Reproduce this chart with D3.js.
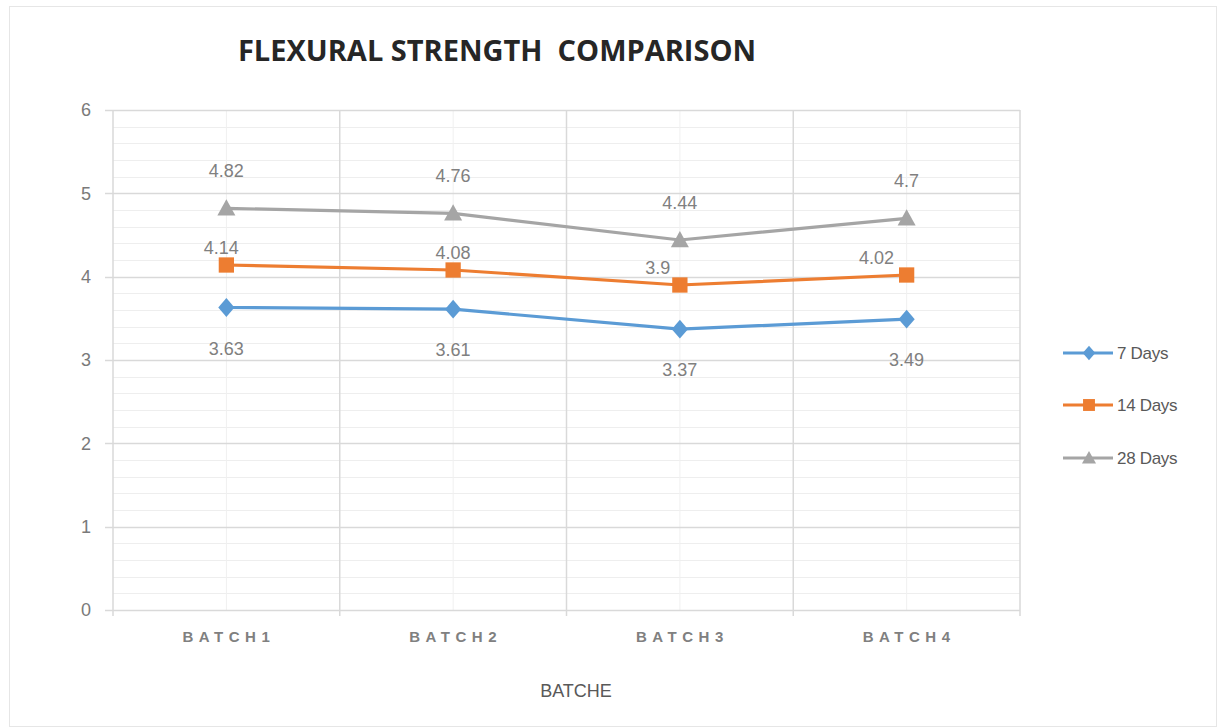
<!DOCTYPE html>
<html><head><meta charset="utf-8">
<script src="https://cdn.jsdelivr.net/npm/d3@7"></script>
<style>body{margin:0;background:#fff}svg{display:block}</style>
</head><body>
<svg id="c" width="1218" height="728"></svg>
<script>
const categories = ["BATCH1","BATCH2","BATCH3","BATCH4"];
const days7 = [3.63, 3.61, 3.37, 3.49];
const days14 = [4.14, 4.08, 3.9, 4.02];
const days28 = [4.82, 4.76, 4.44, 4.7];
const seriesNames = ["7 Days","14 Days","28 Days"];
const yTicks = [0,1,2,3,4,5,6];

const colors = ["#5b9bd5","#ed7d31","#a5a5a5"];
const labelDy = [40, -18, -38];
const label14Dx = [-5, 0, -22, -30];

const svg = d3.select("#c");
const m = {left:113, right:1020, top:110, bottom:610};

svg.append("rect").attr("x",9.5).attr("y",6.5).attr("width",1207).attr("height",720)
  .attr("fill","#fff").attr("stroke","#e6e6e6");

const x = d3.scaleBand().domain(categories).range([m.left, m.right]).padding(0);
const y = d3.scaleLinear().domain([0,6]).range([m.bottom, m.top]);

function marker(sel, s, r) {
  if (s === 0) {
    sel.attr("d", `M0,${-r*1.05}L${r*0.9},0L0,${r*1.05}L${-r*0.9},0Z`);
  } else if (s === 1) {
    sel.attr("d", `M${-r*0.85},${-r*0.85}H${r*0.85}V${r*0.85}H${-r*0.85}Z`);
  } else {
    sel.attr("d", `M0,${-r}L${r},${r*0.8}L${-r},${r*0.8}Z`);
  }
}

const minor = d3.range(0, 6.0001, 0.2);
svg.append("g").selectAll("line").data(minor).join("line")
  .attr("x1", m.left).attr("x2", m.right)
  .attr("y1", d=>Math.round(y(d))+0.5).attr("y2", d=>Math.round(y(d))+0.5)
  .attr("stroke","#eeeeee").attr("stroke-width",1);
svg.append("g").selectAll("line").data(categories).join("line")
  .attr("x1", d=>x(d)+x.bandwidth()/2).attr("x2", d=>x(d)+x.bandwidth()/2)
  .attr("y1", m.top).attr("y2", m.bottom)
  .attr("stroke","#f0f0f0").attr("stroke-width",1);
svg.append("g").selectAll("line").data(yTicks).join("line")
  .attr("x1", m.left-8).attr("x2", m.right)
  .attr("y1", d=>Math.round(y(d))+0.5).attr("y2", d=>Math.round(y(d))+0.5)
  .attr("stroke","#d9d9d9").attr("stroke-width",1.5);
const edges = categories.map(c=>x(c)).concat([m.right]);
svg.append("g").selectAll("line").data(edges).join("line")
  .attr("x1", d=>d).attr("x2", d=>d)
  .attr("y1", m.top).attr("y2", m.bottom+6)
  .attr("stroke","#d9d9d9").attr("stroke-width",1.5);

const yAxis = d3.axisLeft(y).tickValues(yTicks).tickSize(0).tickPadding(22).tickFormat(d3.format("d"));
const gy = svg.append("g").attr("transform",`translate(${m.left},0)`).call(yAxis);
gy.select(".domain").remove();
gy.selectAll("text").attr("font-family","Liberation Sans, Arial, sans-serif").attr("font-size",18).attr("fill","#7a7a7a");

const xAxis = d3.axisBottom(x).tickSize(0).tickPadding(21);
const gx = svg.append("g").attr("transform",`translate(0,${m.bottom})`).call(xAxis);
gx.select(".domain").remove();
gx.selectAll("text").attr("font-family","Liberation Sans, Arial, sans-serif").attr("font-size",15)
  .attr("fill","#808080").attr("letter-spacing","5.5px").attr("font-weight","bold")
  .attr("dx","2.5px");

svg.append("text").attr("x",497).attr("y",61).attr("text-anchor","middle")
  .attr("font-family","Open Sans, sans-serif").attr("font-weight","bold").attr("font-size",29)
  .attr("fill","#262626").attr("xml:space","preserve").text("FLEXURAL STRENGTH  COMPARISON");

svg.append("text").attr("x",576).attr("y",697).attr("text-anchor","middle")
  .attr("font-family","Liberation Sans, Arial, sans-serif").attr("font-size",18)
  .attr("fill","#595959").text("BATCHE");

const series = [days7, days14, days28];
const line = d3.line().x((d,i)=>x(categories[i])+x.bandwidth()/2).y(d=>y(d));

series.forEach((vals, s) => {
  const g = svg.append("g");
  g.append("path").datum(vals).attr("d", line).attr("fill","none")
    .attr("stroke", colors[s]).attr("stroke-width",3.2);
  g.selectAll("path.m").data(vals).join("path").attr("class","m")
    .attr("transform",(d,i)=>`translate(${x(categories[i])+x.bandwidth()/2},${y(d)})`)
    .call(marker, s, 9)
    .attr("fill", colors[s]);
  g.selectAll("text").data(vals).join("text")
    .attr("x",(d,i)=>x(categories[i])+x.bandwidth()/2 + (s===1?label14Dx[i]:0))
    .attr("y",d=>y(d)+labelDy[s]+7)
    .attr("text-anchor","middle")
    .attr("font-family","Liberation Sans, Arial, sans-serif").attr("font-size",18)
    .attr("fill","#808080").text(d=>d);
});

const lg = svg.append("g");
const legendY = [353, 405, 458];
seriesNames.forEach((n, s) => {
  const ly = legendY[s];
  lg.append("line").attr("x1",1063).attr("x2",1113).attr("y1",ly).attr("y2",ly)
    .attr("stroke",colors[s]).attr("stroke-width",3);
  lg.append("path").attr("transform",`translate(1089,${ly})`)
    .call(marker, s, 7).attr("fill",colors[s]);
  lg.append("text").attr("x",1117).attr("y",ly+6).attr("font-family","Liberation Sans, Arial, sans-serif")
    .attr("font-size",17).attr("fill","#595959").attr("letter-spacing","-0.3px").text(n);
});
</script>
</body></html>
